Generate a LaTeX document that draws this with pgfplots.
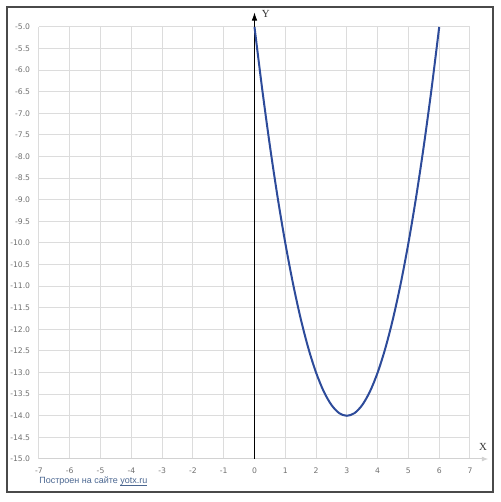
\documentclass[border=0pt]{standalone}
\usepackage{fontspec}
\setmainfont{DejaVu Sans}
\newfontfamily\serifx{Liberation Serif}
\newfontfamily\creditfont{Liberation Sans}
\usepackage{pgfplots}
\pgfplotsset{compat=1.18}
\usetikzlibrary{arrows.meta}
\definecolor{gridc}{HTML}{DCDCDC}
\definecolor{curve}{HTML}{2D4B9A}
\definecolor{tickc}{HTML}{707070}
\definecolor{credit}{HTML}{4A6690}
\definecolor{frame}{HTML}{4A4A4A}
\newcommand\ulink[1]{\setbox0\hbox{#1}\rlap{\rule[-0.7pt]{\wd0}{0.3pt}}\box0}
\begin{document}
\begin{tikzpicture}
% page: 500x502 px at 0.6pt per px
\path (0pt,0pt) rectangle (300pt,301.2pt);
\draw[frame, line width=0.9pt] (4.2pt,6pt) rectangle (295.8pt,297pt);
\begin{axis}[
    at={(23.4pt,25.8pt)}, anchor=south west,
    scale only axis,
    width=258.6pt, height=259.2pt,
    xmin=-7, xmax=7, ymin=-15, ymax=-5,
    xtick={-7,...,7},
    ytick={-15,-14.5,...,-5},
    grid=major,
    major grid style={gridc, line width=0.6pt},
    axis line style={draw=none},
    major tick length=0pt,
    tick label style={font=\fontsize{4.6}{5}\selectfont, text=tickc},
    /pgf/number format/assume math mode=true,
    yticklabel={\pgfmathprintnumber[fixed,fixed zerofill,precision=1]{\tick}},
    yticklabel style={xshift=-1.8pt},
    xticklabel style={yshift=-2pt},
    clip=false,
]
\draw[gray!35, line width=0.6pt, -{Latex[length=4pt,width=3pt]}] (axis cs:-7,-15) -- (axis cs:7.6,-15);
\draw[black, line width=0.6pt, -{Latex[length=5pt,width=3.4pt]}] (axis cs:0,-15) -- (axis cs:0,-4.66);
\node[font=\serifx\fontsize{6.5}{7}\selectfont, text=black!80] at (axis cs:0.37,-4.7) {Y};
\node[font=\serifx\fontsize{6.5}{7}\selectfont, text=black!80] at (axis cs:7.42,-14.72) {X};
\addplot[curve, line width=1.2pt, smooth] coordinates {
    (0,-5) (0.25,-6.4375) (0.5,-7.75) (0.75,-8.9375) (1,-10)
    (1.25,-10.9375) (1.5,-11.75) (1.75,-12.4375) (2,-13)
    (2.25,-13.4375) (2.5,-13.75) (2.75,-13.9375) (3,-14)
    (3.25,-13.9375) (3.5,-13.75) (3.75,-13.4375) (4,-13)
    (4.25,-12.4375) (4.5,-11.75) (4.75,-10.9375) (5,-10)
    (5.25,-8.9375) (5.5,-7.75) (5.75,-6.4375) (6,-5)
};
\node[anchor=west, font=\creditfont\fontsize{5.4}{6}\selectfont, text=credit, inner sep=0pt] at (axis cs:-7,-15.52) {Построен на сайте \ulink{yotx.ru}};
\end{axis}
\end{tikzpicture}
\end{document}
